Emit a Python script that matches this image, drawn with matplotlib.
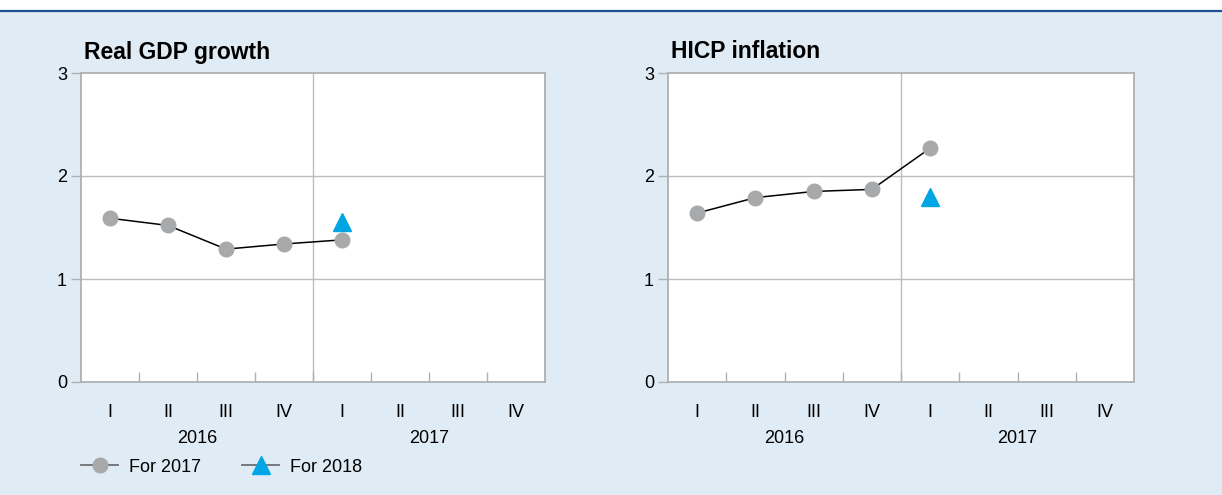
import matplotlib
matplotlib.use("Agg")
import matplotlib.pyplot as plt
from matplotlib.lines import Line2D
import numpy as np

plt.rcParams['font.family'] = ['Liberation Sans', 'DejaVu Sans']

quarters = ["I", "II", "III", "IV", "I", "II", "III", "IV"]
years = ["2016", "2017"]
titles = ["Real GDP growth", "HICP inflation"]
gdp_2017 = [1.59, 1.52, 1.29, 1.34, 1.38]
gdp_2018 = [None, None, None, None, 1.55]
hicp_2017 = [1.64, 1.79, 1.85, 1.87, 2.27]
hicp_2018 = [None, None, None, None, 1.80]
series_2017 = [gdp_2017, hicp_2017]
series_2018 = [gdp_2018, hicp_2018]
legend_labels = ["For 2017", "For 2018"]

BG = "#e0ecf5"
GRID = "#bdbdbd"
SPINE = "#b0b0b0"
GREY_MK = "#a8a9ab"
BLUE = "#00a5e3"

W, H = 1222, 495
fig = plt.figure(figsize=(W / 100, H / 100), dpi=100)
fig.patch.set_facecolor("white")
fig.patches.append(plt.Rectangle((0, 0), 1, (H - 11) / H, transform=fig.transFigure,
                                 facecolor=BG, edgecolor="none", zorder=-10))
fig.add_artist(Line2D([0, 1], [(H - 11) / H] * 2, transform=fig.transFigure,
                      color="#1d4f91", lw=1.6))

panels = [(81, 545), (668, 1134)]
top, bottom = 73, 382

for i, (x0, x1) in enumerate(panels):
    ax = fig.add_axes([x0 / W, (H - bottom) / H, (x1 - x0) / W, (bottom - top) / H])
    ax.set_facecolor("white")
    ax.set_xlim(0, 8)
    ax.set_ylim(0, 3)
    for s in ax.spines.values():
        s.set_color(SPINE)
        s.set_linewidth(1.3)
    for yv in [1, 2]:
        ax.axhline(yv, color=GRID, lw=1.0, zorder=1)
    ax.axvline(4, color=GRID, lw=1.0, zorder=1)
    ax.set_yticks([0, 1, 2, 3])
    ax.set_yticklabels(["0", "1", "2", "3"], fontsize=13)
    ax.tick_params(axis="y", length=7, color=SPINE, width=1.0, pad=3)
    ax.set_xticks(np.arange(1, 8), minor=True)
    ax.tick_params(axis="x", which="minor", direction="in", length=7, color=SPINE, width=1.0)
    ax.set_xticks(np.arange(8) + 0.5)
    ax.set_xticklabels(quarters, fontsize=13)
    ax.tick_params(axis="x", which="major", length=0, pad=16)
    for j, yr in enumerate(years):
        ax.text(2 + 4 * j, -0.55, yr, ha="center", va="center", fontsize=13,
                transform=ax.transData)
    ax.text(x0 / W + 3 / W, (H - 52) / H, titles[i], transform=fig.transFigure,
            fontsize=16.5, fontweight="bold", ha="left", va="center")
    s17 = series_2017[i]
    xs = np.arange(len(s17)) + 0.5
    ax.plot(xs, s17, color="black", lw=1.1, zorder=3)
    ax.plot(xs, s17, ls="none", marker="o", ms=10.5, mfc=GREY_MK, mec=GREY_MK, zorder=4)
    s18 = series_2018[i]
    x18 = [k + 0.5 for k, v in enumerate(s18) if v is not None]
    y18 = [v for v in s18 if v is not None]
    ax.plot(x18, y18, ls="none", marker="^", ms=13, mfc=BLUE, mec=BLUE, zorder=5)

leg_y = (H - 467) / H
h1 = Line2D([], [], color="#6d6e71", lw=1.3, marker="o", ms=10.5, mfc=GREY_MK, mec=GREY_MK)
h2 = Line2D([], [], color="#6d6e71", lw=1.3, marker="^", ms=13, mfc=BLUE, mec=BLUE)
fig.legend([h1, h2], legend_labels, loc="center left", bbox_to_anchor=(81 / W, leg_y),
           ncol=2, frameon=False, fontsize=13, handlelength=2.05, handletextpad=0.6,
           columnspacing=2.3, borderaxespad=0, borderpad=0)

fig.savefig("out.png", dpi=100, facecolor=fig.get_facecolor())
